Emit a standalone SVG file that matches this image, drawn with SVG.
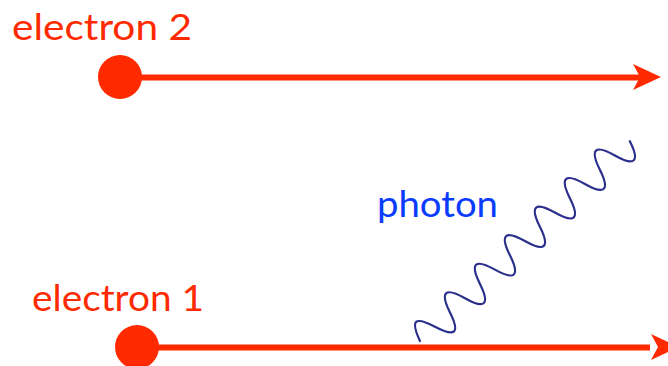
<svg xmlns="http://www.w3.org/2000/svg" width="668" height="366" viewBox="0 0 668 366">
<style>
.lbl{font-family:Lato,"Open Sans","Liberation Sans",sans-serif;fill:#ff2a00;font-size:36px}
.ph{font-family:Lato,"Open Sans","Liberation Sans",sans-serif;fill:#0a3cff;font-size:37px}
.eline{stroke:#ff2a00;stroke-width:6;fill:none}
.wave{stroke:#2b2f8c;stroke-width:2.2;fill:none;stroke-linecap:round}
</style>
<defs>
<path id="head" d="M0,0 L-28,-13 L-21,0 L-28,13 Z" fill="#ff2a00"/>
</defs>
<rect width="668" height="366" fill="#fff"/>
<g id="connectors">
<line class="eline" x1="120" y1="77.5" x2="642" y2="77.5"/>
<use href="#head" x="661" y="77"/>
<line class="eline" x1="137" y1="347.5" x2="650" y2="347.5"/>
<use href="#head" x="679" y="347"/>
<g id="photon-wave" transform="translate(420,341) rotate(-43.6)">
<path class="wave" d="M0,0 C7.4,-22 13.3,-22 20.7,0 S34.7,22 41.4,0 S55.4,-22 62.1,0 S76.1,22 82.8,0 S96.8,-22 103.5,0 S117.5,22 124.2,0 S138.2,-22 144.9,0 S158.9,22 165.6,0 S179.6,-22 186.3,0 S200.3,22 207,0 S221,-22 227.7,0 S241.7,22 248.4,0 S262.4,-22 269.1,0 S283.1,22 289.8,0"/>
</g>
</g>
<g id="electron2">
<text class="lbl" x="12" y="40" textLength="180" lengthAdjust="spacingAndGlyphs">electron 2</text>
<circle cx="120" cy="77" r="22" fill="#ff2a00"/>
</g>
<g id="electron1">
<text class="lbl" x="32" y="311" textLength="172" lengthAdjust="spacingAndGlyphs">electron 1</text>
<circle cx="137" cy="347" r="22" fill="#ff2a00"/>
</g>
<g id="photon">
<text class="ph" x="377" y="217" textLength="121" lengthAdjust="spacingAndGlyphs">photon</text>
</g>
</svg>
